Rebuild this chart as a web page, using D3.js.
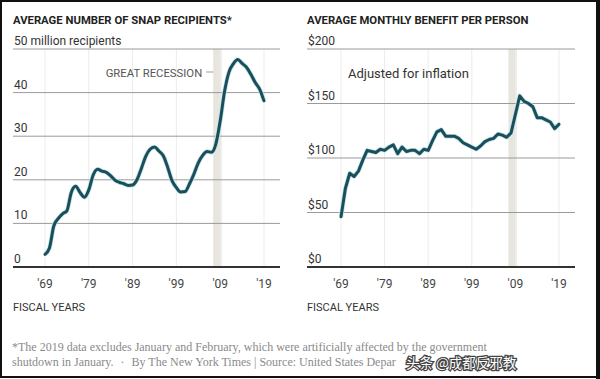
<!DOCTYPE html>
<html>
<head>
<meta charset="utf-8">
<script src="https://cdn.jsdelivr.net/npm/d3@7"></script>
<style>
  body { margin: 0; background: #fff; }
  svg { display: block; }
  .title { font-family: "Liberation Sans Narrow", "Roboto", sans-serif; font-weight: bold; font-size: 11.3px; fill: #222; }
  .tick_label { font-family: "Roboto", "Liberation Sans", sans-serif; font-size: 12px; fill: #333; }
  .x_label { font-family: "Roboto", "Liberation Sans", sans-serif; font-size: 12px; fill: #444; }
  .note { font-family: "Liberation Serif", serif; font-size: 12px; fill: #8a8a8a; }
</style>
</head>
<body>
<svg id="chart" width="600" height="379"></svg>
<script>
// fiscal years shown on both panels
const years = d3.range(1969, 2020);

// average number of SNAP recipients, millions
const recipients = [2.9, 4.3, 9.4, 11.1, 12.2, 12.9, 17.1, 18.5, 17.1, 16.0,
    17.7, 21.1, 22.4, 22.0, 21.7, 20.9, 19.9, 19.4, 19.1, 18.7,
    18.8, 20.0, 22.6, 25.4, 27.0, 27.5, 26.6, 25.5, 22.9, 19.8,
    18.2, 17.2, 17.3, 19.1, 21.3, 23.9, 25.6, 26.5, 26.3, 28.2,
    33.5, 40.3, 44.7, 46.6, 47.6, 46.7, 45.8, 44.2, 42.3, 40.8,
    38.1];

// average monthly benefit per person, inflation adjusted dollars
const benefit = [46, 72, 86, 83, 88, 98, 107, 106, 105, 108,
    107, 110, 112, 104, 110, 106, 107, 107, 104, 108,
    107, 116, 124, 126, 120, 120, 120, 118, 114, 112,
    110, 108, 111, 115, 117, 118, 122, 121, 119, 123,
    140, 157, 152, 150, 147, 137, 137, 135, 133, 127,
    131];

const decadeTicks = [1969, 1979, 1989, 1999, 2009, 2019];
const tickLabels = ["'69", "'79", "'89", "'99", "'09", "'19"];
const recession = [2007.4, 2009.3];

const leftTicks = [0, 10, 20, 30, 40, 50];
const leftTickLabels = ["0", "10", "20", "30", "40", "50 million recipients"];
const rightTicks = [0, 50, 100, 150, 200];
const rightTickLabels = ["$0", "$50", "$100", "$150", "$200"];

const svg = d3.select('#chart');
const lineColor = '#1b4e5b';

function drawPanel(opt) {
    let g = svg.append('g');
    let x = d3.scaleLinear().domain([1969, 2019]).range(opt.xRange);
    let y = d3.scaleLinear().domain(opt.yDomain).range([267, 49]);

    //title
    g.append('text')
        .attr('class', 'title')
        .attr('x', opt.left)
        .attr('y', 24)
        .text(opt.title);

    //recession band
    g.append('rect')
        .attr('x', x(recession[0]))
        .attr('y', y(opt.yDomain[1]))
        .attr('width', x(recession[1]) - x(recession[0]))
        .attr('height', y(opt.yDomain[0]) - y(opt.yDomain[1]))
        .style('fill', '#e7e5de');

    //vertical grid
    g.selectAll('.vgrid')
        .data(decadeTicks)
        .enter()
        .append('line')
        .attr('x1', (d) => x(d))
        .attr('x2', (d) => x(d))
        .attr('y1', y(opt.yDomain[1]))
        .attr('y2', y(opt.yDomain[0]))
        .style('stroke', '#ececec')
        .style('stroke-width', 1);

    //horizontal grid
    g.selectAll('.hgrid')
        .data(opt.ticks)
        .enter()
        .append('line')
        .attr('x1', opt.left)
        .attr('x2', opt.right)
        .attr('y1', (d) => y(d))
        .attr('y2', (d) => y(d))
        .style('stroke', (d, i) => i == 0 ? '#333' : '#9a9a9a')
        .style('stroke-width', (d, i) => i == 0 ? 2 : 1);

    g.selectAll('.ylabel')
        .data(opt.ticks)
        .enter()
        .append('text')
        .attr('class', 'tick_label')
        .attr('x', opt.left + 1)
        .attr('y', (d) => y(d) - 4)
        .text((d, i) => opt.tickLabels[i]);

    //x labels
    g.selectAll('.xlabel')
        .data(decadeTicks)
        .enter()
        .append('text')
        .attr('class', 'x_label')
        .attr('x', (d) => x(d))
        .attr('y', 288)
        .attr('text-anchor', 'middle')
        .text((d, i) => tickLabels[i]);

    g.append('text')
        .attr('class', 'title')
        .style('font-weight', 'normal')
        .style('font-size', '11px')
        .style('fill', '#333')
        .attr('x', opt.left)
        .attr('y', 311)
        .text('FISCAL YEARS');

    //line
    let line = d3.line()
        .x((d, i) => x(years[i]))
        .y((d) => y(d))
        .curve(opt.curve);

    g.append('path')
        .datum(opt.values)
        .attr('d', line)
        .style('fill', 'none')
        .style('stroke', '#bfe3e6')
        .style('stroke-width', 4.5)
        .style('stroke-linejoin', 'round');

    g.append('path')
        .datum(opt.values)
        .attr('d', line)
        .style('fill', 'none')
        .style('stroke', lineColor)
        .style('stroke-width', 3)
        .style('stroke-linejoin', 'round')
        .style('stroke-linecap', 'round');

    return {x: x, y: y, g: g};
}

let left = drawPanel({
    title: 'AVERAGE NUMBER OF SNAP RECIPIENTS*',
    left: 13, right: 280,
    xRange: [45, 264],
    yDomain: [0, 50],
    ticks: leftTicks,
    tickLabels: leftTickLabels,
    values: recipients,
    curve: d3.curveMonotoneX
});

let right = drawPanel({
    title: 'AVERAGE MONTHLY BENEFIT PER PERSON',
    left: 307, right: 575,
    xRange: [341, 559],
    yDomain: [0, 200],
    ticks: rightTicks,
    tickLabels: rightTickLabels,
    values: benefit,
    curve: d3.curveLinear
});

//annotations
left.g.append('text')
    .attr('class', 'tick_label')
    .style('fill', '#555')
    .style('font-size', '11.3px')
    .attr('x', left.x(recession[0]) - 11)
    .attr('y', 77)
    .attr('text-anchor', 'end')
    .text('GREAT RECESSION');

left.g.append('line')
    .attr('x1', left.x(recession[0]) - 7)
    .attr('x2', left.x(recession[0]))
    .attr('y1', 72)
    .attr('y2', 72)
    .style('stroke', '#999');

right.g.append('text')
    .attr('class', 'tick_label')
    .style('font-size', '13px')
    .attr('x', 348)
    .attr('y', 78)
    .text('Adjusted for inflation');

//footer
svg.append('text')
    .attr('class', 'note')
    .attr('x', 12)
    .attr('y', 351)
    .text('*The 2019 data excludes January and February, which were artificially affected by the government');

let note2 = svg.append('text')
    .attr('class', 'note')
    .attr('x', 12)
    .attr('y', 366);
note2.append('tspan').text('shutdown in January.');
note2.append('tspan').attr('dx', 7).text('\u00b7');
note2.append('tspan').attr('dx', 7).text('By The New York Times | Source: United States Depar');

//watermark, drawn over the end of the source line
svg.append('text')
    .attr('x', 406)
    .attr('y', 368)
    .style('font-family', '"Noto Sans CJK SC", sans-serif')
    .style('font-size', '13.5px')
    .style('fill', '#fff')
    .style('stroke', '#444')
    .style('stroke-width', 2.5)
    .style('paint-order', 'stroke')
    .text('头条 @成都反邪教');

//frame
svg.append('rect')
    .attr('x', 1)
    .attr('y', 1)
    .attr('width', 596)
    .attr('height', 376)
    .style('fill', 'none')
    .style('stroke', '#111')
    .style('stroke-width', 2);
svg.append('rect')
    .attr('x', 596)
    .attr('y', 0)
    .attr('width', 4)
    .attr('height', 379)
    .style('fill', '#111');
</script>
</body>
</html>
